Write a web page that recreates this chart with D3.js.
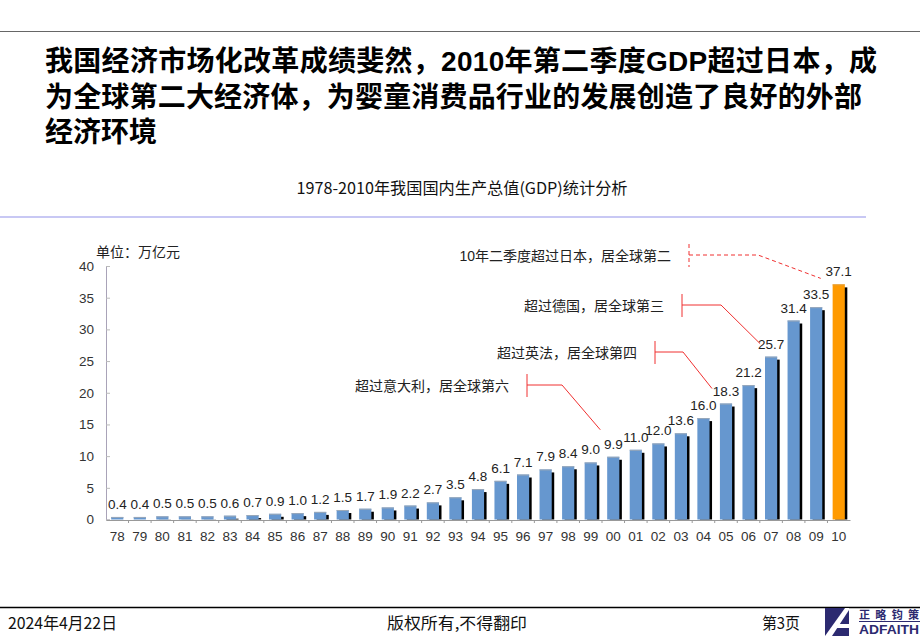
<!DOCTYPE html>
<html>
<head>
<meta charset="utf-8">
<script src="https://cdn.jsdelivr.net/npm/d3@7"></script>
<style>
  html, body { margin: 0; padding: 0; background: #fff; }
  svg { display: block; }
</style>
</head>
<body>
<svg id="chart" width="920" height="637"></svg>
<script>
// ---------- data ----------
const years = ["78","79","80","81","82","83","84","85","86","87","88","89","90","91","92","93","94","95","96","97","98","99","00","01","02","03","04","05","06","07","08","09","10"];
const gdp = [0.4,0.4,0.5,0.5,0.5,0.6,0.7,0.9,1.0,1.2,1.5,1.7,1.9,2.2,2.7,3.5,4.8,6.1,7.1,7.9,8.4,9.0,9.9,11.0,12.0,13.6,16.0,18.3,21.2,25.7,31.4,33.5,37.1];
const yTicks = [0,5,10,15,20,25,30,35,40];
const headlineLines = ["我国经济市场化改革成绩斐然，2010年第二季度GDP超过日本，成","为全球第二大经济体，为婴童消费品行业的发展创造了良好的外部","经济环境"];
const chartTitle = "1978-2010年我国国内生产总值(GDP)统计分析";
const unitLabel = "单位：万亿元";
const annTexts = ["超过意大利，居全球第六","超过英法，居全球第四","超过德国，居全球第三","10年二季度超过日本，居全球第二"];
const annYears = ["00","05","07","10"];
const footerTexts = ["2024年4月22日","版权所有,不得翻印","第3页"];

// ---------- setup ----------
const svg = d3.select("#chart");
const CJK = "'Noto Sans CJK SC', 'Noto Sans', sans-serif";
const NUM = "'Liberation Sans', Arial, sans-serif";

svg.append("rect").attr("width",920).attr("height",637).attr("fill","#fff");

// top rule
svg.append("line").attr("x1",0).attr("x2",920).attr("y1",31.5).attr("y2",31.5)
  .attr("stroke","#666").attr("stroke-width",1);

// headline
const hlY = [71, 107, 142];
const hlLen = [832, 817, null];
headlineLines.forEach((t,i)=>{
  const el = svg.append("text").attr("x",45).attr("y",hlY[i])
    .attr("font-family", NUM + ", " + CJK).attr("font-weight","bold")
    .attr("font-size",28).attr("fill","#000").text(t);
  if (hlLen[i]) el.attr("textLength",hlLen[i]).attr("lengthAdjust","spacing");
});

// chart title
svg.append("text").attr("x",462).attr("y",194).attr("text-anchor","middle")
  .attr("font-family",CJK).attr("font-size",16).attr("fill","#111")
  .attr("textLength",331).attr("lengthAdjust","spacingAndGlyphs").text(chartTitle);

// purple separator
svg.append("line").attr("x1",0).attr("x2",866).attr("y1",217).attr("y2",217)
  .attr("stroke","#c8c8f4").attr("stroke-width",2);

// ---------- scales ----------
const x = d3.scaleBand().domain(years).range([106,850]).paddingInner(0.46).paddingOuter(0.23);
const y = d3.scaleLinear().domain([0,40]).range([519.5,266]);

// unit label
svg.append("text").attr("x",96).attr("y",257).attr("font-family",CJK)
  .attr("font-size",14).attr("fill","#222").text(unitLabel);

// y axis
const yAxis = svg.append("g").attr("transform","translate(106,0)")
  .call(d3.axisLeft(y).tickValues(yTicks).tickSize(-4).tickPadding(12).tickFormat(d3.format("d")));
yAxis.select(".domain").attr("stroke","#a9a3b8");
yAxis.selectAll(".tick line").attr("stroke","#bbb");
yAxis.selectAll(".tick text").attr("font-family",NUM).attr("font-size",13.5).attr("fill","#333");

// x axis
const xAxis = svg.append("g").attr("transform","translate(0,520)")
  .call(d3.axisBottom(x).tickSize(0).tickPadding(11));
xAxis.select(".domain").attr("stroke","#999");
xAxis.selectAll(".tick text").attr("font-family",NUM).attr("font-size",13.5).attr("fill","#333");
// boundary ticks
svg.append("g").selectAll("line").data(years.slice(1)).join("line")
  .attr("x1",d=>x(d)-x.step()*x.paddingInner()/2).attr("x2",d=>x(d)-x.step()*x.paddingInner()/2)
  .attr("y1",520).attr("y2",523).attr("stroke","#999");

// ---------- bars ----------
const data = years.map((yr,i)=>({yr, v:gdp[i], last:i===years.length-1}));
const bars = svg.append("g");
// shadow
bars.selectAll("rect.shadow").data(data).join("rect").attr("class","shadow")
  .attr("x",d=>x(d.yr)+2.5).attr("y",d=>y(d.v)+3)
  .attr("width",x.bandwidth()).attr("height",d=>Math.max(0,y(0)-y(d.v)-3)).attr("fill","#000");
// bar
bars.selectAll("rect.bar").data(data).join("rect").attr("class","bar")
  .attr("x",d=>x(d.yr)).attr("y",d=>y(d.v))
  .attr("width",x.bandwidth()).attr("height",d=>y(0)-y(d.v))
  .attr("fill",d=>d.last?"#ff9a00":"#6697cf");
// top highlight
bars.selectAll("line.cap").data(data).join("line").attr("class","cap")
  .attr("x1",d=>x(d.yr)).attr("x2",d=>x(d.yr)+x.bandwidth())
  .attr("y1",d=>y(d.v)+0.5).attr("y2",d=>y(d.v)+0.5)
  .attr("stroke",d=>d.last?"#e0a040":"#9aa8b8").attr("stroke-width",1);
// value labels
bars.selectAll("text.val").data(data).join("text").attr("class","val")
  .attr("x",d=>x(d.yr)+x.bandwidth()/2).attr("y",d=>y(d.v)-8)
  .attr("text-anchor","middle").attr("font-family",NUM).attr("font-size",13.5).attr("fill","#222")
  .text(d=>d3.format(".1f")(d.v));

// ---------- annotations ----------
const annLayout = [
  {bx:527, by:385, ex:562, dx:-13, dy:-14, dashed:false},
  {bx:655, by:352, ex:683, dx:-14, dy:-2,  dashed:false},
  {bx:682, by:305, ex:721, dx:-11, dy:0,   dashed:false},
  {bx:689, by:255, ex:758, dx:-18, dy:7,   dashed:true}
];
const annG = svg.append("g");
annTexts.forEach((t,i)=>{
  const L = annLayout[i];
  const yr = annYears[i];
  const v = gdp[years.indexOf(yr)];
  const endX = x(yr)+x.bandwidth()/2 + L.dx;
  const endY = y(v) - 13 + L.dy;
  const g = annG.append("g").attr("stroke","#f03030").attr("fill","none")
    .attr("stroke-width",1).attr("stroke-dasharray",L.dashed?"4,3":null);
  g.append("line").attr("x1",L.bx).attr("x2",L.bx).attr("y1",L.by-11).attr("y2",L.by+12);
  g.append("polyline").attr("points",[[L.bx,L.by],[L.ex,L.by],[endX,endY]].map(p=>p.join(",")).join(" "));
  annG.append("text").attr("x",L.bx-18).attr("y",L.by+5.5).attr("text-anchor","end")
    .attr("font-family",NUM + ", " + CJK).attr("font-size",14).attr("fill","#222").text(t);
});

// ---------- footer ----------
svg.append("line").attr("x1",0).attr("x2",920).attr("y1",607.5).attr("y2",607.5)
  .attr("stroke","#000").attr("stroke-width",1.5);
const fx = [8, 387, 762], fw = [109, 140, 38];
footerTexts.forEach((t,i)=>{
  svg.append("text").attr("x",fx[i]).attr("y",629).attr("font-family",CJK)
    .attr("font-size",16).attr("fill","#111")
    .attr("textLength",fw[i]).attr("lengthAdjust","spacingAndGlyphs").text(t);
});

// logo
const logo = svg.append("g");
logo.append("rect").attr("x",825).attr("y",608).attr("width",24).attr("height",28).attr("fill","#2c2a70");
logo.append("polygon").attr("points","825,636 832,636 849,610 849,608 845,608").attr("fill","#fff");
logo.append("polygon").attr("points","838,624 849,624 849,628 836,628").attr("fill","#fff");
logo.append("text").attr("x",859).attr("y",619).attr("font-family",CJK).attr("font-weight","bold")
  .attr("font-size",11).attr("fill","#2c2a70").attr("textLength",60).attr("lengthAdjust","spacing").text("正略钧策");
logo.append("line").attr("x1",859).attr("x2",920).attr("y1",621.5).attr("y2",621.5).attr("stroke","#2c2a70").attr("stroke-width",1);
logo.append("text").attr("x",859).attr("y",634).attr("font-family",NUM).attr("font-weight","bold")
  .attr("font-size",12).attr("fill","#2c2a70").attr("textLength",60).attr("lengthAdjust","spacingAndGlyphs").text("ADFAITH");
</script>
</body>
</html>
